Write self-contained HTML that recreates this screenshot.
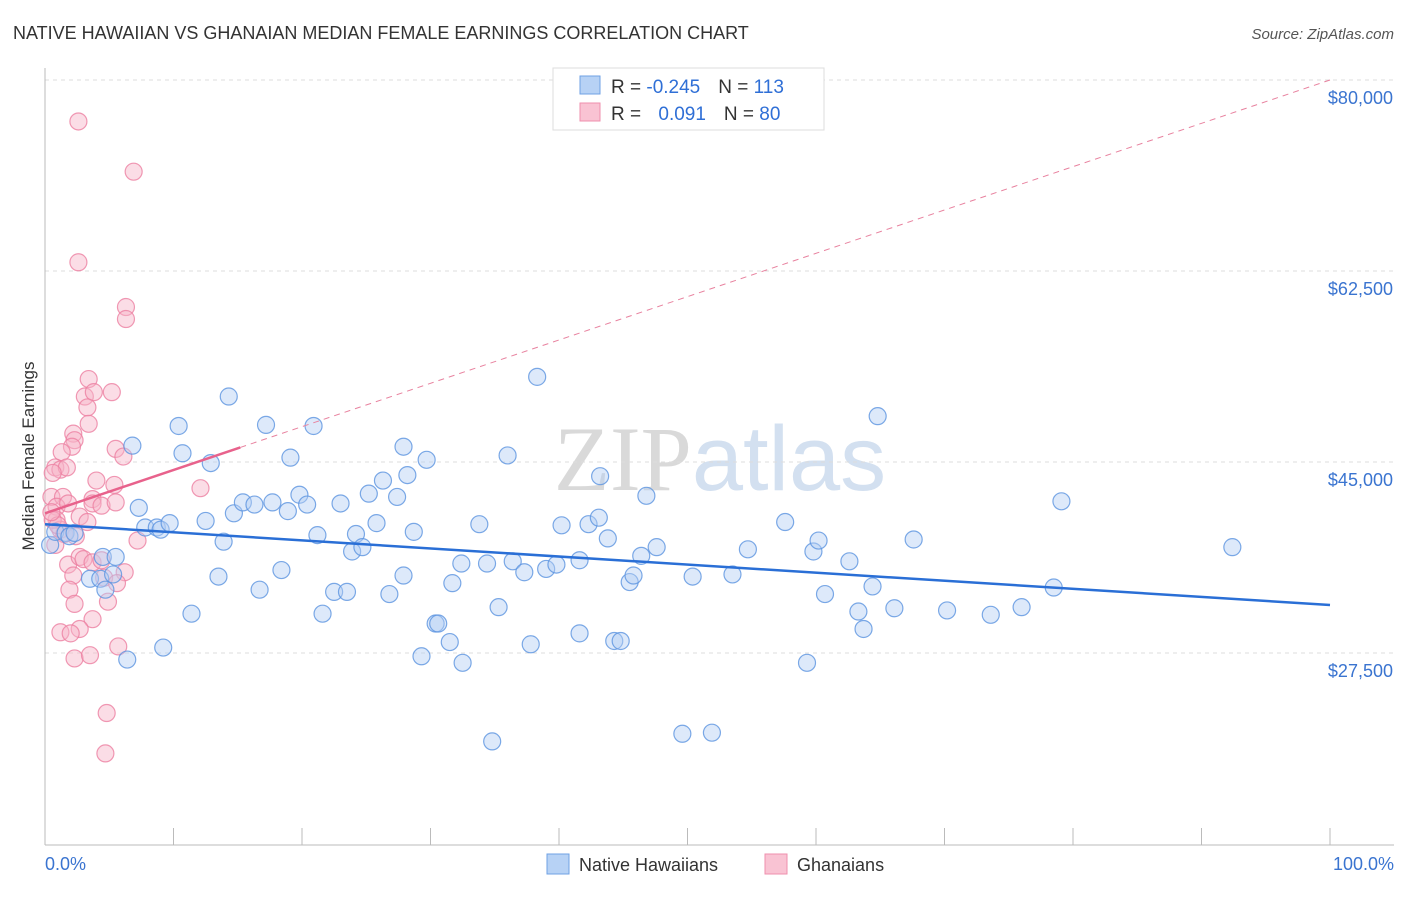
<!DOCTYPE html>
<html><head><meta charset="utf-8"><style>
body{margin:0;background:#fff;font-family:"Liberation Sans",sans-serif;}
svg text{font-family:"Liberation Sans",sans-serif;}
</style></head><body>
<svg id="chart" width="1406" height="892" viewBox="0 0 1406 892" xmlns="http://www.w3.org/2000/svg">
<text x="13" y="39" font-size="18" fill="#333">NATIVE HAWAIIAN VS GHANAIAN MEDIAN FEMALE EARNINGS CORRELATION CHART</text>
<text x="1394" y="39" font-size="15" fill="#555" text-anchor="end" font-style="italic">Source: ZipAtlas.com</text>
<text x="720" y="490" font-size="92" text-anchor="middle" fill="#e4e4e4"><tspan font-family="Liberation Serif" fill="#d9d9d9">ZIP</tspan><tspan fill="#d3e0f0">atlas</tspan></text>
<g id="grid"></g>
<g id="axes"></g>
<g id="marks"></g>
<text transform="translate(34,456) rotate(-90)" font-size="17" fill="#333" text-anchor="middle">Median Female Earnings</text>
<text x="45" y="870" font-size="18" fill="#3a74d0">0.0%</text>
<text x="1394" y="870" font-size="18" fill="#3a74d0" text-anchor="end">100.0%</text>
<g>
<rect x="553" y="68" width="271" height="62" fill="#fff" stroke="#ddd"/>
<rect x="580" y="76" width="20" height="18" fill="#b7d2f5" stroke="#6fa1e4"/>
<rect x="580" y="103" width="20" height="18" fill="#f9c3d3" stroke="#ef8fae"/>
<text x="611" y="93" font-size="19" fill="#333">R = <tspan fill="#2f6fd6">-0.245</tspan><tspan dx="18">N = </tspan><tspan fill="#2f6fd6">113</tspan></text>
<text x="611" y="120" font-size="19" fill="#333">R = <tspan dx="12" fill="#2f6fd6">0.091</tspan><tspan dx="18">N = </tspan><tspan fill="#2f6fd6">80</tspan></text>
</g>
<g>
<rect x="547" y="854" width="22" height="20" fill="#b7d2f5" stroke="#6fa1e4"/>
<text x="579" y="871" font-size="18" fill="#333">Native Hawaiians</text>
<rect x="765" y="854" width="22" height="20" fill="#f9c3d3" stroke="#ef8fae"/>
<text x="797" y="871" font-size="18" fill="#333">Ghanaians</text>
</g>
</svg>
<script>
const yTicks=[27500,45000,62500,80000];
const yTickLabels=["$27,500","$45,000","$62,500","$80,000"];
const xTicks=[0,10,20,30,40,50,60,70,80,90,100];
const blueX=[10.4,14.3,17.2,20.9,38.3,64.8,6.8,10.7,12.9,19.1,27.9,29.7,36.0,43.2,46.8,79.1,7.3,12.5,14.7,15.4,16.3,17.7,18.9,19.8,20.4,23.0,25.2,26.3,27.4,28.2,7.8,8.7,9.0,9.7,13.9,21.2,23.9,24.2,24.7,25.8,28.7,33.8,40.2,42.3,43.1,43.8,47.6,54.7,57.6,59.8,60.2,62.6,67.6,92.4,0.4,0.8,1.6,1.9,2.3,3.5,4.3,4.7,4.5,5.5,5.3,13.5,16.7,18.4,22.5,23.5,26.8,27.9,31.7,32.4,34.4,35.3,36.4,37.3,39.0,39.8,41.6,45.5,45.8,46.4,50.4,53.5,60.7,63.3,63.7,64.4,66.1,70.2,73.6,76.0,78.5,11.4,21.6,30.4,30.6,9.2,31.5,37.8,41.6,44.3,44.8,6.4,29.3,32.5,59.3,34.8,49.6,51.9];
const blueY=[48.3,51.0,48.4,48.3,52.8,49.2,46.5,45.8,44.9,45.4,46.4,45.2,45.6,43.7,41.9,41.4,40.8,39.6,40.3,41.3,41.1,41.3,40.5,42.0,41.1,41.2,42.1,43.3,41.8,43.8,39.0,39.0,38.8,39.4,37.7,38.3,36.8,38.4,37.2,39.4,38.6,39.3,39.2,39.3,39.9,38.0,37.2,37.0,39.5,36.8,37.8,35.9,37.9,37.2,37.4,38.6,38.5,38.2,38.5,34.3,34.3,33.3,36.3,36.3,34.7,34.5,33.3,35.1,33.1,33.1,32.9,34.6,33.9,35.7,35.7,31.7,35.9,34.9,35.2,35.6,36.0,34.0,34.6,36.4,34.5,34.7,32.9,31.3,29.7,33.6,31.6,31.4,31.0,31.7,33.5,31.1,31.1,30.2,30.2,28.0,28.5,28.3,29.3,28.6,28.6,26.9,27.2,26.6,26.6,19.4,20.1,20.2];
const pinkX=[2.6,6.9,2.6,6.3,6.3,3.4,3.1,3.8,5.2,3.3,3.4,2.2,2.3,5.5,6.1,2.1,1.3,0.8,1.2,1.7,0.6,12.1,4.0,5.4,0.5,1.4,0.9,1.8,3.7,3.7,4.4,5.5,0.9,1.2,1.5,2.7,3.3,0.6,1.0,0.8,2.4,7.2,1.8,2.7,3.0,2.2,3.7,4.4,4.6,6.2,5.6,1.9,2.3,4.9,3.7,2.7,1.2,2.0,5.7,2.3,3.5,4.8,4.7,0.5];
const pinkY=[76.2,71.6,63.3,59.2,58.1,52.6,51.0,51.4,51.4,50.0,48.5,47.6,47.0,46.2,45.5,46.4,45.9,44.5,44.3,44.5,44.0,42.6,43.3,42.9,41.8,41.8,40.9,41.2,41.6,41.2,41.0,41.3,39.7,38.8,38.4,40.0,39.5,39.7,39.2,37.4,38.2,37.8,35.6,36.3,36.1,34.6,35.8,36.0,34.4,34.9,33.9,33.3,32.0,32.2,30.6,29.7,29.4,29.3,28.1,27.0,27.3,22.0,18.3,40.4];
const blueTrend=[39.3,31.9];
const pinkTrend=[40.3,80.0];
const pinkSolidEnd=15.2;

const NS="http://www.w3.org/2000/svg";
function sx(p){return 45+p*12.85;}
function sy(k){return 462-(k-45)/17.5*191;}
function mk(t,a,parent){const e=document.createElementNS(NS,t);for(const k in a)e.setAttribute(k,a[k]);parent.appendChild(e);return e;}
const grid=document.getElementById('grid'),axes=document.getElementById('axes'),marks=document.getElementById('marks');
yTicks.forEach((v,i)=>{
 const y=sy(v/1000);
 const l=mk('line',{x1:45,x2:1394,y1:y,y2:y,stroke:'#ddd','stroke-dasharray':'4,4'},grid);
 
 
 const t=mk('text',{x:1393,y:y+24,'font-size':18,fill:'#3a74d0','text-anchor':'end'},grid);
 t.textContent=yTickLabels[i];
 
 
});
const ax=mk('line',{x1:45,x2:45,y1:68,y2:845,stroke:'#bbb'},axes);


const bx=mk('line',{x1:45,x2:1394,y1:845,y2:845,stroke:'#bbb'},axes);


xTicks.forEach(p=>{
 const t=mk('line',{x1:sx(p),x2:sx(p),y1:828,y2:845,stroke:'#bbb'},axes);
 
 
});
function dots(X,Y,fill,stroke,name){
 X.forEach((x,i)=>{
  const c=mk('circle',{cx:sx(x),cy:sy(Y[i]),r:8.5,fill:fill,'fill-opacity':0.45,stroke:stroke,'stroke-width':1.2,'stroke-opacity':0.8},marks);
  
  
 });
}
dots(pinkX,pinkY,'#f7b3c7','#ec7fa1','ghanaian-point');
dots(blueX,blueY,'#b3cff3','#5b93e0','native-hawaiian-point');
const bl=mk('line',{x1:sx(0),y1:sy(blueTrend[0]),x2:sx(100),y2:sy(blueTrend[1]),stroke:'#2a6fd6','stroke-width':2.5},marks);


const pe=pinkTrend[0]+(pinkTrend[1]-pinkTrend[0])*pinkSolidEnd/100;
const pl=mk('line',{x1:sx(0),y1:sy(pinkTrend[0]),x2:sx(pinkSolidEnd),y2:sy(pe),stroke:'#e8628c','stroke-width':2.5},marks);


const pd=mk('line',{x1:sx(pinkSolidEnd),y1:sy(pe),x2:sx(100),y2:sy(pinkTrend[1]),stroke:'#e8829f','stroke-width':1,'stroke-dasharray':'6,5'},marks);


</script>
</body></html>
